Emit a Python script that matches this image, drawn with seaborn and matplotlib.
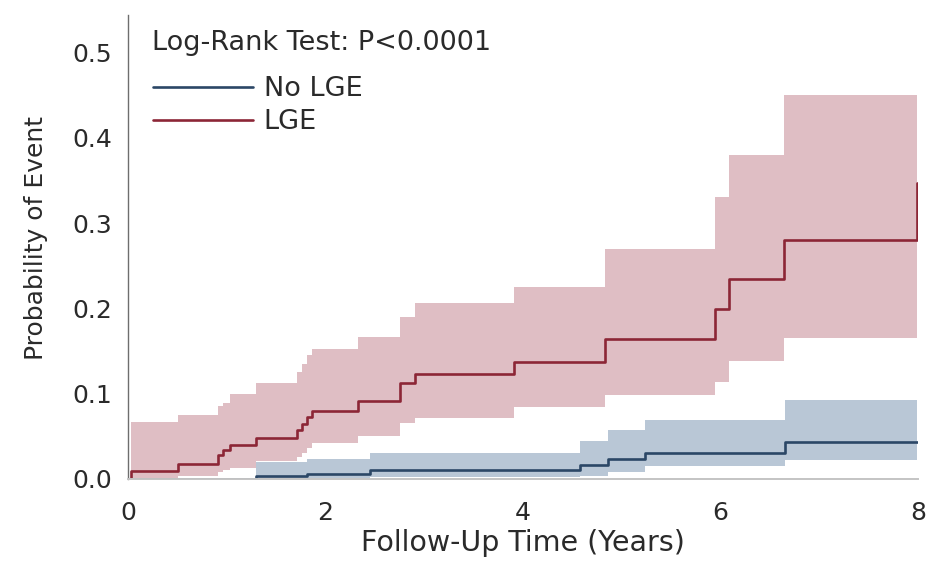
import numpy as np
import pandas as pd
import matplotlib
matplotlib.use("Agg")
import matplotlib.pyplot as plt
from matplotlib.lines import Line2D
import seaborn as sns

# ---- data ----
groups = ["No LGE", "LGE"]

red_t = [0, 0.03, 0.51, 0.91, 0.96, 1.03, 1.30, 1.71, 1.76, 1.81, 1.86, 2.33,
         2.75, 2.91, 3.91, 4.83, 5.94, 6.09, 6.64, 7.99, 8.0]
red_p = [0, 0.009, 0.018, 0.028, 0.034, 0.040, 0.048, 0.057, 0.065, 0.073, 0.080,
         0.092, 0.112, 0.123, 0.137, 0.164, 0.199, 0.235, 0.280, 0.347, 0.347]
red_lo = [0, 0.001, 0.004, 0.008, 0.011, 0.013, 0.021, 0.026, 0.031, 0.036, 0.042,
          0.050, 0.066, 0.072, 0.084, 0.098, 0.114, 0.138, 0.165, 0.165]
red_hi = [0, 0.067, 0.075, 0.086, 0.089, 0.100, 0.113, 0.125, 0.135, 0.145, 0.153,
          0.167, 0.190, 0.206, 0.225, 0.270, 0.331, 0.380, 0.450, 0.450]

blue_t = [0, 1.30, 1.81, 2.45, 4.58, 4.86, 5.24, 6.65, 7.99, 8.0]
blue_p = [0, 0.0035, 0.006, 0.010, 0.016, 0.024, 0.030, 0.043, 0.043, 0.043]
blue_lo = [0, 0.001, 0.001, 0.002, 0.004, 0.008, 0.015, 0.022, 0.022]
blue_hi = [0, 0.020, 0.024, 0.030, 0.044, 0.057, 0.069, 0.093, 0.093]

x_ticks = [0, 2, 4, 6, 8]
y_ticks = [0.0, 0.1, 0.2, 0.3, 0.4, 0.5]
title_text = "Log-Rank Test: P<0.0001"
x_label = "Follow-Up Time (Years)"
y_label = "Probability of Event"

# ---- style ----
sns.set_style("white")
plt.rcParams["font.family"] = ["DejaVu Sans"]

line_colors = {"No LGE": "#2b4766", "LGE": "#8c2636"}
fill_colors = {"No LGE": "#b9c7d6", "LGE": "#dfbec4"}
text_color = "#2a2a2a"

df = pd.concat([
    pd.DataFrame({"t": blue_t, "p": blue_p, "group": "No LGE"}),
    pd.DataFrame({"t": red_t, "p": red_p, "group": "LGE"}),
], ignore_index=True)

fig = plt.figure(figsize=(9.36, 5.61), dpi=100)
ax = fig.add_axes([128 / 936, 1 - 479 / 561, 790 / 936, 464 / 561])

# confidence bands
ax.fill_between(red_t[:len(red_lo)], red_lo, red_hi, step="post",
                color=fill_colors["LGE"], linewidth=0)
ax.fill_between(blue_t[:len(blue_lo)], blue_lo, blue_hi, step="post",
                color=fill_colors["No LGE"], linewidth=0)

sns.lineplot(data=df, x="t", y="p", hue="group", hue_order=groups,
             palette=line_colors, estimator=None, drawstyle="steps-post",
             linewidth=1.9, legend=False, ax=ax)

ax.set_xlim(0, 8)
ax.set_ylim(0, 0.544)
ax.set_xticks(x_ticks)
ax.set_xticklabels([str(v) for v in x_ticks])
ax.set_yticks(y_ticks)
ax.set_yticklabels([f"{v:.1f}" for v in y_ticks])
ax.tick_params(axis="both", which="both", direction="out", length=4.5, width=1,
               colors="#8a8a8a", labelcolor=text_color, labelsize=18)
ax.tick_params(axis="x", pad=11)
ax.tick_params(axis="y", pad=7)

for s in ["top", "right"]:
    ax.spines[s].set_visible(False)
ax.spines["left"].set_color("#6e6e6e")
ax.spines["left"].set_linewidth(1.0)
ax.spines["bottom"].set_color("#c4c4c4")
ax.spines["bottom"].set_linewidth(1.4)

ax.set_xlabel(x_label, fontsize=20.5, color=text_color, labelpad=3.5)
ax.set_ylabel(y_label, fontsize=18, color=text_color)
ax.yaxis.set_label_coords((48 - 128) / 790, (479 - 238) / 464)

ax.text((152 - 128) / 790, (479 - 50) / 464, title_text, transform=ax.transAxes,
        fontsize=19.5, color=text_color, ha="left", va="baseline")

handles = [Line2D([0], [0], color=line_colors[g], linewidth=1.9) for g in groups]
ax.legend(handles, groups, loc="upper left",
          bbox_to_anchor=((153 - 128) / 790, (479 - 76) / 464),
          frameon=False, fontsize=19.5, handlelength=3.7, handletextpad=0.38,
          labelspacing=0.27, borderpad=0, borderaxespad=0,
          labelcolor=text_color)

fig.savefig("out.png", dpi=100)
